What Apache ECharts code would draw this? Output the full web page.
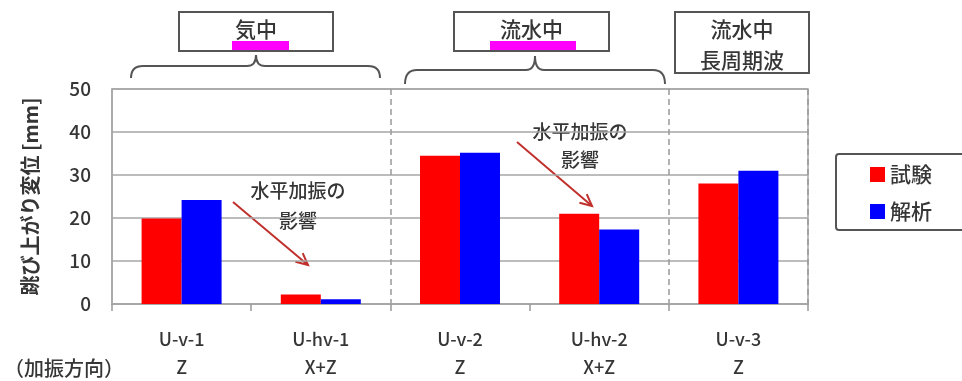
<!DOCTYPE html>
<html>
<head>
<meta charset="utf-8">
<script src="https://cdn.jsdelivr.net/npm/echarts@6/dist/echarts.min.js"></script>
<style>
  html, body { margin: 0; padding: 0; background: #fff; }
  #main { width: 962px; height: 381px; }
</style>
</head>
<body>
<div id="main"></div>
<script>
var chartDom = document.getElementById('main');
var myChart = echarts.init(chartDom);
var option;

// data
const cases = ['U-v-1', 'U-hv-1', 'U-v-2', 'U-hv-2', 'U-v-3'];
const directions = ['Z', 'X+Z', 'Z', 'X+Z', 'Z'];
const testValues = [19.9, 2.2, 34.5, 21.0, 28.0];     // 試験
const analysisValues = [24.2, 1.1, 35.2, 17.3, 31.0]; // 解析

const font = '"Noto Sans CJK JP", "Noto Sans", sans-serif';
const textColor = '#363636';
const gray = '#a6a6a6';
const braceStyle = { stroke: '#555', lineWidth: 2, fill: null };

// arrow = shaft + open head
function arrow(x1, y1, x2, y2) {
  const a = Math.atan2(y2 - y1, x2 - x1);
  const len = 13, w = 0.45;
  return [
    {
      type: 'polyline',
      shape: { points: [[x1, y1], [x2, y2]] },
      style: { stroke: '#c0302c', lineWidth: 2, fill: null }
    },
    {
      type: 'polyline',
      shape: { points: [
        [x2 - len * Math.cos(a - w), y2 - len * Math.sin(a - w)],
        [x2, y2],
        [x2 - len * Math.cos(a + w), y2 - len * Math.sin(a + w)]
      ] },
      style: { stroke: '#c0302c', lineWidth: 2, fill: null }
    }
  ];
}

// curly brace opening downward, tip pointing up
function brace(x1, x2, xm, yEnd, yMid, yTip) {
  const r = 12, t = 9;
  function q(ax, ay, cx, cy, bx, by) {
    return { type: 'bezierCurve', shape: { x1: ax, y1: ay, cpx1: cx, cpy1: cy, x2: bx, y2: by }, style: braceStyle };
  }
  function l(ax, ay, bx, by) {
    return { type: 'line', shape: { x1: ax, y1: ay, x2: bx, y2: by }, style: braceStyle };
  }
  return [
    q(x1, yEnd, x1, yMid, x1 + r, yMid),
    l(x1 + r, yMid, xm - t, yMid),
    q(xm - t, yMid, xm, yMid, xm, yTip),
    q(xm, yTip, xm, yMid, xm + t, yMid),
    l(xm + t, yMid, x2 - r, yMid),
    q(x2 - r, yMid, x2, yMid, x2, yEnd)
  ];
}

function titleBox(x, y, w, h, lines, hl) {
  const els = [{
    type: 'rect',
    shape: { x: x, y: y, width: w, height: h },
    style: { fill: '#fff', stroke: '#555', lineWidth: 2 }
  }];
  if (hl) {
    els.push({
      type: 'rect',
      shape: { x: hl[0], y: 41, width: hl[1] - hl[0], height: 9 },
      style: { fill: '#ff00ff' }
    });
  }
  lines.forEach(function (t, i) {
    els.push({
      type: 'text',
      x: x + w / 2,
      y: y + 17 + i * 31,
      style: { text: t, font: '500 21px ' + font, fill: textColor, align: 'center', verticalAlign: 'middle' }
    });
  });
  return els;
}

function label(x, y, t) {
  return {
    type: 'text', x: x, y: y,
    style: { text: t, font: '500 19px ' + font, fill: textColor, align: 'center', verticalAlign: 'middle' }
  };
}

const graphics = [].concat(
  titleBox(179, 12, 154, 39, ['気中'], [232, 289]),
  titleBox(454, 12, 155, 39, ['流水中'], [490, 576]),
  titleBox(675, 12, 134, 61, ['流水中', '長周期波'], null),
  brace(131, 380, 256, 78, 66, 55),
  brace(405, 665, 535, 84, 70, 56),
  [
    label(298, 191, '水平加振の'),
    label(298, 221, '影響'),
    label(580, 132, '水平加振の'),
    label(580, 160, '影響')
  ],
  arrow(233, 202, 308, 265),
  arrow(517, 142, 592, 206),
  [
    {
      type: 'text', x: 4, y: 368,
      style: { text: '（加振方向）', font: '500 20px ' + font, fill: textColor, align: 'left', verticalAlign: 'middle' }
    }
  ]
);

option = {
  animation: false,
  textStyle: { fontFamily: font },
  grid: {
    left: 112, right: 154, top: 89, bottom: 76,
    show: true, borderColor: gray, borderWidth: 1.5
  },
  legend: {
    orient: 'vertical',
    left: 836, top: 154,
    padding: [10, 60, 8, 34],
    itemGap: 16,
    itemWidth: 15, itemHeight: 15,
    icon: 'rect',
    borderColor: '#555', borderWidth: 2, borderRadius: 3,
    textStyle: { fontSize: 21, fontWeight: 500, color: textColor, fontFamily: font },
    data: ['試験', '解析']
  },
  xAxis: {
    type: 'category',
    data: cases,
    axisLine: { lineStyle: { color: gray, width: 1.5 } },
    axisTick: { show: true, length: 7, lineStyle: { color: '#999', width: 1.5 } },
    axisLabel: {
      margin: 21,
      lineHeight: 28,
      fontSize: 18,
      fontWeight: 500,
      color: textColor,
      formatter: function (v, i) { return v + '\n' + directions[i]; }
    },
    splitLine: {
      show: true,
      interval: function (i) { return i === 2 || i === 4; },
      lineStyle: { color: '#999', type: [6, 4], width: 1.5 }
    }
  },
  yAxis: {
    type: 'value',
    min: 0, max: 50, interval: 10,
    name: '跳び上がり変位 [mm]',
    nameLocation: 'middle',
    nameRotate: 90,
    nameGap: 72,
    nameTextStyle: { fontSize: 20, fontWeight: 'bold', color: textColor, fontFamily: font },
    axisLine: { show: true, lineStyle: { color: gray, width: 1.5 } },
    axisTick: { show: false },
    axisLabel: { fontSize: 19, fontWeight: 500, color: textColor, margin: 21 },
    splitLine: { lineStyle: { color: gray, width: 1.5 } }
  },
  series: [
    {
      name: '試験',
      type: 'bar',
      data: testValues,
      barWidth: 40,
      barGap: '0%',
      itemStyle: { color: '#ff0000' }
    },
    {
      name: '解析',
      type: 'bar',
      data: analysisValues,
      barWidth: 40,
      itemStyle: { color: '#0000ff' }
    }
  ],
  graphic: graphics
};

option && myChart.setOption(option);
</script>
</body>
</html>
